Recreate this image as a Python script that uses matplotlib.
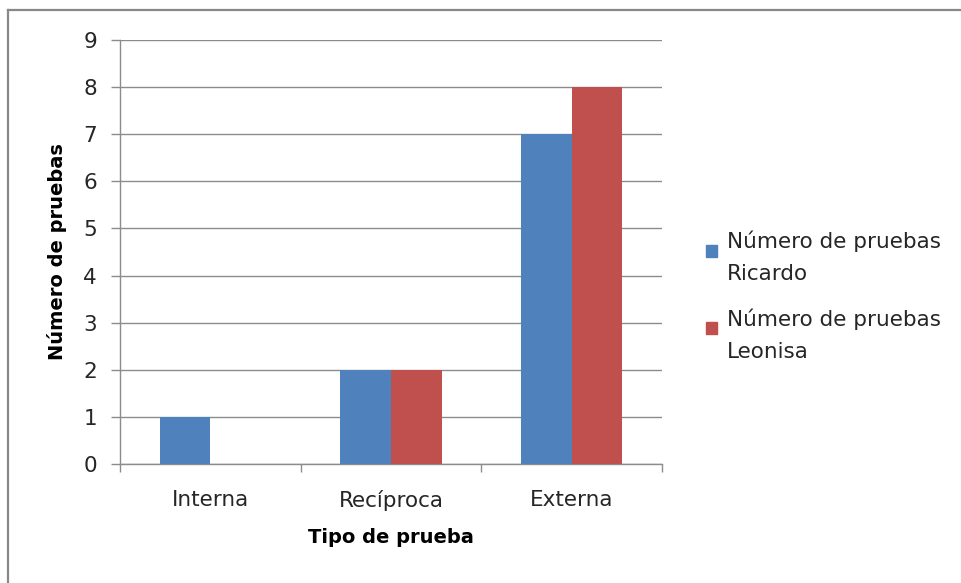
import numpy as np
import matplotlib
matplotlib.use("Agg")
import matplotlib.pyplot as plt
from matplotlib.patches import Rectangle
from matplotlib.lines import Line2D

# test counts per type
categorias = ["Interna", "Recíproca", "Externa"]
ricardo = [1, 2, 7]
leonisa = [0, 2, 8]
series_nombres = ["Número de pruebas\nRicardo", "Número de pruebas\nLeonisa"]
colores = ["#4F81BD", "#C0504D"]
y_ticks = list(range(0, 10))

plt.rcParams['font.family'] = ['DejaVu Sans']
gris = "#8C8C8C"

fig = plt.figure(figsize=(9.61, 5.83), dpi=100)
W, H = 961, 583
ax = fig.add_axes([120 / W, 1 - 464 / H, 542 / W, 424 / H])

x = np.arange(len(categorias))
ancho = 0.28
ax.bar(x - ancho / 2, ricardo, ancho, color=colores[0], zorder=3)
ax.bar(x + ancho / 2, leonisa, ancho, color=colores[1], zorder=3)

ax.set_xlim(-0.5, len(categorias) - 0.5)
ax.set_ylim(0, 9)
ax.set_yticks(y_ticks)
ax.yaxis.grid(True, color=gris, linewidth=1.0, zorder=0)
ax.set_axisbelow(True)

for lado in ["top", "right"]:
    ax.spines[lado].set_visible(False)
for lado in ["left", "bottom"]:
    ax.spines[lado].set_color(gris)
    ax.spines[lado].set_linewidth(1.0)

ax.set_xticks(x)
ax.set_xticklabels(categorias)
ax.set_xticks(np.arange(-0.5, len(categorias)), minor=True)
ax.tick_params(axis="x", which="major", length=0, pad=19, labelsize=15.5, labelcolor="#262626")
ax.tick_params(axis="x", which="minor", length=6, width=1.0, color=gris, direction="out")
ax.tick_params(axis="y", length=6.5, width=1.0, color=gris, pad=10, labelsize=15.5, labelcolor="#262626")

ax.set_xlabel("Tipo de prueba", fontsize=14, fontweight="bold")
ax.xaxis.set_label_coords(0.5, -0.152)
ax.set_ylabel("Número de pruebas", fontsize=14, fontweight="bold")
ax.yaxis.set_label_coords(-0.098, 0.5)

# legend drawn by hand so the swatch sits on the first text line
for i, (nombre, col) in enumerate(zip(series_nombres, colores)):
    top = 245 + i * 77
    fig.add_artist(Rectangle((706 / W, 1 - (top + 12) / H), 11 / W, 12 / H,
                             transform=fig.transFigure, color=col))
    fig.text(727 / W, 1 - (top - 14) / H, nombre, fontsize=15.5, color="#262626",
             va="top", ha="left", linespacing=1.75)

# outer frame (top and left edge)
fig.add_artist(Line2D([8 / W, 1], [1 - 10 / H, 1 - 10 / H], transform=fig.transFigure,
                      color="#888888", linewidth=1.6))
fig.add_artist(Line2D([8 / W, 8 / W], [0, 1 - 10 / H], transform=fig.transFigure,
                      color="#888888", linewidth=1.6))

fig.savefig("out.png", dpi=100)
